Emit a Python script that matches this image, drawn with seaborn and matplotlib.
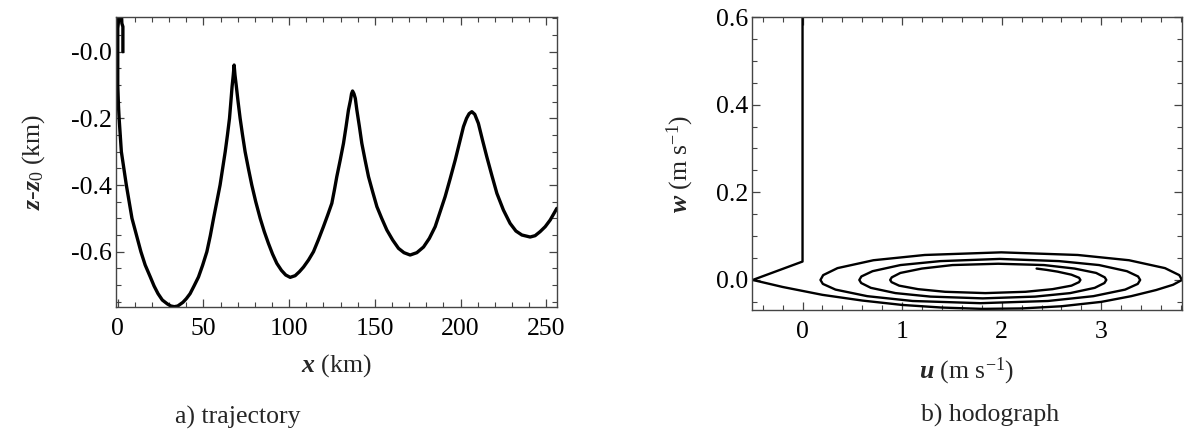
import matplotlib
matplotlib.use("Agg")
import matplotlib.pyplot as plt
from matplotlib.ticker import MultipleLocator
import pandas as pd
import seaborn as sns

# a) trajectory: x (km) vs z - z0 (km)
traj_x = [3.0, 3.0, 2.4, 2.2, 0.8, 0.4, 0.0, 0.0, 0.4, 0.8, 2.1, 5.0, 8.3, 13.5,
          16.0, 19.0, 21.2, 23.5, 26.0, 29.0, 31.0, 33.0, 35.0, 38.0, 40.0, 42.2,
          44.5, 47.1, 49.5, 52.0, 54.0, 55.9, 57.8, 59.7, 61.2, 62.7, 64.0, 65.2,
          66.0, 66.7, 67.4, 67.9,
          68.4, 69.1, 70.2, 71.4, 72.8, 74.3, 76.2, 78.2, 80.5, 83.1, 85.5, 87.9,
          90.3, 92.8, 95.5, 98.0, 100.6, 103.5, 106.0, 108.4, 111.3, 114.2, 117.0,
          120.0, 122.5, 124.9, 126.4, 127.8, 129.8, 131.7, 133.2, 134.6, 135.8,
          136.4, 137.0, 137.8,
          138.6, 139.5, 141.0, 142.4, 144.3, 146.3, 148.7, 151.2, 154.0, 157.0,
          160.4, 163.8, 167.0, 170.6, 174.5, 178.4, 181.8, 185.2, 188.1, 191.0,
          194.0, 196.9, 199.3, 201.7, 203.5, 205.0, 206.6, 208.3,
          210.4, 212.8, 215.3, 218.2, 221.2, 225.0, 228.9, 232.3, 235.8, 240.6,
          243.5, 246.4, 249.4, 252.3, 256.2]
traj_z = [0.0, 0.075, 0.085, 0.11, 0.11, 0.09, 0.07, -0.10, -0.16, -0.20, -0.30,
          -0.40, -0.50, -0.60, -0.64, -0.676, -0.703, -0.726, -0.745, -0.757,
          -0.763, -0.765, -0.763, -0.752, -0.741, -0.726, -0.703, -0.676, -0.641,
          -0.60, -0.552, -0.50, -0.45, -0.40, -0.35, -0.30, -0.25, -0.20, -0.15,
          -0.105, -0.07, -0.04,
          -0.07, -0.10, -0.15, -0.20, -0.25, -0.30, -0.35, -0.40, -0.45, -0.50,
          -0.54, -0.575, -0.607, -0.635, -0.656, -0.670, -0.677, -0.672, -0.660,
          -0.646, -0.625, -0.60, -0.565, -0.525, -0.49, -0.455, -0.415, -0.375,
          -0.325, -0.275, -0.225, -0.175, -0.145, -0.126, -0.118, -0.126,
          -0.14, -0.175, -0.225, -0.275, -0.325, -0.375, -0.42, -0.465, -0.50,
          -0.535, -0.565, -0.59, -0.603, -0.61, -0.603, -0.586, -0.56, -0.525,
          -0.48, -0.435, -0.38, -0.325, -0.275, -0.225, -0.20, -0.186, -0.18,
          -0.188, -0.215, -0.265, -0.315, -0.37, -0.425, -0.475, -0.515, -0.538,
          -0.55, -0.556, -0.552, -0.54, -0.525, -0.505, -0.47]

# b) hodograph: u (m/s) vs w (m/s), spiral
hodo_u = [0.0, 0.0, -0.50,
          -0.20, 0.20, 0.60, 1.00, 1.40, 1.80, 2.20, 2.60, 3.00, 3.30, 3.55, 3.72, 3.81,
          3.783, 3.639, 3.278, 2.763, 1.995, 1.227, 0.712, 0.351, 0.207, 0.18,
          0.204, 0.331, 0.65, 1.106, 1.785, 2.464, 2.92, 3.239, 3.366, 3.39,
          3.369, 3.257, 2.977, 2.576, 1.98, 1.384, 0.983, 0.703, 0.591, 0.57,
          0.589, 0.686, 0.933, 1.285, 1.81, 2.335, 2.687, 2.934, 3.031, 3.05,
          3.034, 2.948, 2.732, 2.424, 1.965, 1.506, 1.198, 0.982, 0.896, 0.88,
          0.894, 0.970, 1.160, 1.431, 1.835, 2.239, 2.510, 2.700, 2.776, 2.79,
          2.776, 2.70, 2.56, 2.45, 2.35]
hodo_w = [0.60, 0.042, 0.0,
          -0.016, -0.034, -0.047, -0.057, -0.063, -0.066, -0.065, -0.060, -0.050,
          -0.037, -0.023, -0.011, 0.0,
          0.011, 0.027, 0.045, 0.057, 0.063, 0.057, 0.045, 0.027, 0.011, 0.0,
          -0.009, -0.022, -0.037, -0.048, -0.053, -0.048, -0.037, -0.022, -0.009, 0.0,
          0.008, 0.020, 0.034, 0.043, 0.048, 0.043, 0.034, 0.020, 0.008, 0.0,
          -0.007, -0.018, -0.030, -0.038, -0.042, -0.038, -0.030, -0.018, -0.007, 0.0,
          0.006, 0.016, 0.026, 0.034, 0.037, 0.034, 0.026, 0.016, 0.006, 0.0,
          -0.005, -0.013, -0.021, -0.027, -0.030, -0.027, -0.021, -0.013, -0.005, 0.0,
          0.005, 0.012, 0.019, 0.023, 0.026]

traj_yticks = [-0.6, -0.4, -0.2, 0.0]
traj_yticklabels = ["-0.6", "-0.4", "-0.2", "-0.0"]
traj_xticks = [0, 50, 100, 150, 200, 250]
hodo_yticks = [0.0, 0.2, 0.4, 0.6]
hodo_yticklabels = ["0.0", "0.2", "0.4", "0.6"]
hodo_xticks = [0, 1, 2, 3]

FS = 18.5

sns.set_style("ticks")
plt.rcParams["font.family"] = ["Liberation Serif", "DejaVu Serif"]
plt.rcParams["mathtext.fontset"] = "custom"
plt.rcParams["mathtext.it"] = "Liberation Serif:italic:bold"
plt.rcParams["mathtext.rm"] = "Liberation Serif"
plt.rcParams["mathtext.bf"] = "Liberation Serif:bold"

traj = pd.DataFrame({"x": traj_x, "z": traj_z})
hodo = pd.DataFrame({"u": hodo_u, "w": hodo_w})

fig = plt.figure(figsize=(12, 4.42), dpi=100)
ax1 = fig.add_axes([0.0967, 0.3054, 0.3675, 0.6561])
ax2 = fig.add_axes([0.6267, 0.2986, 0.3583, 0.6629])

sns.lineplot(data=traj, x="x", y="z", sort=False, estimator=None,
             color="black", linewidth=2.4, ax=ax1)
sns.lineplot(data=hodo, x="u", y="w", sort=False, estimator=None,
             color="black", linewidth=1.7, ax=ax2)

ax1.set_xlim(-1, 256.3)
ax1.set_ylim(-0.766, 0.104)
ax1.set_xticks(traj_xticks)
ax1.set_yticks(traj_yticks)
ax1.set_yticklabels(traj_yticklabels)
ax1.xaxis.set_minor_locator(MultipleLocator(10))
ax1.yaxis.set_minor_locator(MultipleLocator(0.05))
ax1.set_xlabel("$x$ (km)", fontsize=FS, labelpad=9)
ax1.set_ylabel("$z$-$z_0$ (km)", fontsize=FS, labelpad=17)

ax2.set_xlim(-0.507, 3.81)
ax2.set_ylim(-0.0686, 0.6)
ax2.set_xticks(hodo_xticks)
ax2.set_yticks(hodo_yticks)
ax2.set_yticklabels(hodo_yticklabels)
ax2.xaxis.set_minor_locator(MultipleLocator(0.2))
ax2.yaxis.set_minor_locator(MultipleLocator(0.05))
ax2.set_xlabel("$u$ (m s$^{-1}$)", fontsize=FS, labelpad=9)
ax2.set_ylabel("$w$ (m s$^{-1}$)", fontsize=FS, labelpad=14)

for ax in (ax1, ax2):
    for side in ax.spines.values():
        side.set_color("#444444")
        side.set_linewidth(1.0)
    ax.tick_params(which="both", direction="in", top=True, right=True,
                   colors="#444444", labelcolor="black", labelsize=FS)
    ax.tick_params(which="major", length=6, width=0.9)
    ax.tick_params(which="minor", length=3.5, width=0.8)
    ax.tick_params(axis="x", which="major", pad=8)
    ax.tick_params(axis="y", which="major", pad=3)

fig.text(0.198, 1 - 417 / 442, "a) trajectory", fontsize=FS, ha="center", va="center")
fig.text(0.825, 1 - 415 / 442, "b) hodograph", fontsize=FS, ha="center", va="center")

fig.savefig("out.png", dpi=100)
